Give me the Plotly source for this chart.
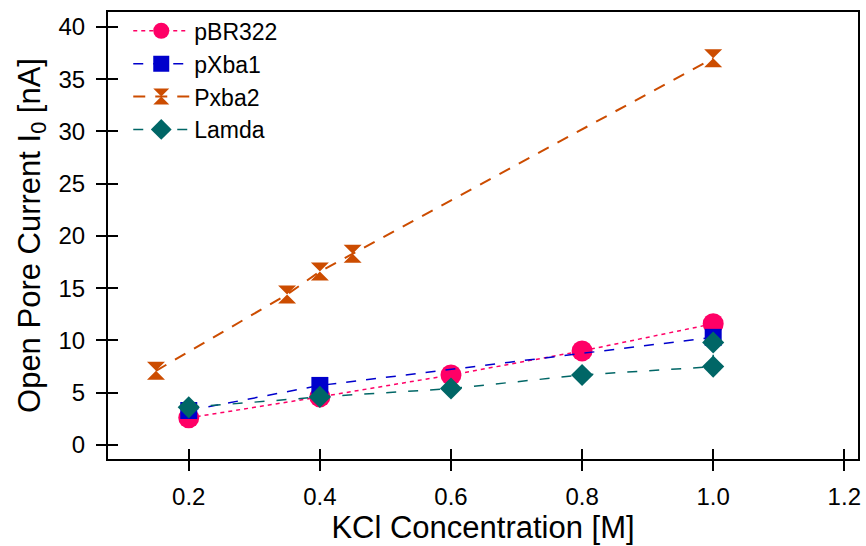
import plotly.graph_objects as go

# ---- data ----
pbr322_x = [0.2, 0.4, 0.6, 0.8, 1.0]
pbr322_y = [2.6, 4.6, 6.7, 9.0, 11.6]

pxba1_x = [0.2, 0.4, 1.0]
pxba1_y = [3.3, 5.7, 10.3]

pxba2_x = [0.15, 0.35, 0.4, 0.45, 1.0]
pxba2_y = [7.1, 14.4, 16.6, 18.3, 37.0]

lamda_x = [0.2, 0.4, 0.6, 0.8, 1.0, 1.0]
lamda_y = [3.6, 4.6, 5.4, 6.7, 7.5, 9.8]

x_ticks = [0.2, 0.4, 0.6, 0.8, 1.0, 1.2]
x_ticklabels = ["0.2", "0.4", "0.6", "0.8", "1.0", "1.2"]
y_ticks = [0, 5, 10, 15, 20, 25, 30, 35, 40]

x_range = [0.0768, 1.2209]
y_range = [-1.34, 41.43]

FONT = "Liberation Sans, Arial, sans-serif"

fig = go.Figure()

fig.add_trace(go.Scatter(
    x=pbr322_x, y=pbr322_y, name="pBR322", mode="lines+markers",
    line=dict(color="#FF0066", width=1.5, dash="4px,4px"),
    marker=dict(symbol="circle", size=21, color="#FF0066"),
))
fig.add_trace(go.Scatter(
    x=pxba1_x, y=pxba1_y, name="pXba1", mode="lines+markers",
    line=dict(color="#0000CC", width=1.5, dash="10px,10px"),
    marker=dict(symbol="square", size=17, color="#0000CC"),
))
fig.add_trace(go.Scatter(
    x=pxba2_x, y=pxba2_y, name="Pxba2", mode="lines+markers",
    line=dict(color="#CC4C00", width=2, dash="12px,10px"),
    marker=dict(symbol="hourglass", size=18, color="#CC4C00"),
))
fig.add_trace(go.Scatter(
    x=lamda_x, y=lamda_y, name="Lamda", mode="lines+markers",
    line=dict(color="#006666", width=1.5, dash="10px,12px"),
    marker=dict(symbol="diamond", size=17, color="#006666"),
))
# invisible trace that keeps the overlay axes (inner tick halves) alive
fig.add_trace(go.Scatter(x=[0.5], y=[20], xaxis="x2", yaxis="y2", mode="markers",
                         marker=dict(opacity=0), showlegend=False, hoverinfo="skip"))

axis_common = dict(
    showgrid=False, zeroline=False, showline=True, linecolor="black", linewidth=2,
    ticks="outside", ticklen=10, tickwidth=2, tickcolor="black", mirror=True,
    tickfont=dict(family=FONT, size=24, color="black"), automargin=False,
)

fig.update_layout(
    width=866, height=546,
    margin=dict(l=108, r=8, t=12, b=87),
    paper_bgcolor="white", plot_bgcolor="white",
    font=dict(family=FONT, color="black"),
    showlegend=True,
    legend=dict(
        x=0.027, y=1.006, xanchor="left", yanchor="top",
        font=dict(family=FONT, size=23, color="black"),
        bgcolor="rgba(0,0,0,0)", borderwidth=0, tracegroupgap=0,
        itemwidth=56,
    ),
    xaxis=dict(
        range=x_range, tickvals=x_ticks, ticktext=x_ticklabels,
        title=dict(text="KCl Concentration [M]", font=dict(family=FONT, size=31, color="black"), standoff=1),
        ticklabelstandoff=5,
        **axis_common,
    ),
    yaxis=dict(
        range=y_range, tickvals=y_ticks,
        title=dict(text="Open Pore Current I<sub>0</sub> [nA]", font=dict(family=FONT, size=31, color="black"), standoff=9),
        ticklabelstandoff=6,
        **axis_common,
    ),
    xaxis2=dict(
        overlaying="x", anchor="y2", side="bottom", range=x_range, tickvals=x_ticks,
        showticklabels=False, showgrid=False, zeroline=False, showline=False,
        ticks="inside", ticklen=10, tickwidth=2, tickcolor="black", automargin=False,
    ),
    yaxis2=dict(
        overlaying="y", anchor="x2", side="left", range=y_range, tickvals=y_ticks,
        showticklabels=False, showgrid=False, zeroline=False, showline=False,
        ticks="inside", ticklen=10, tickwidth=2, tickcolor="black", automargin=False,
    ),
)

fig.write_html("out.html", config={"displayModeBar": False},
               post_script="document.body.style.margin='0';document.body.style.overflow='hidden';")
